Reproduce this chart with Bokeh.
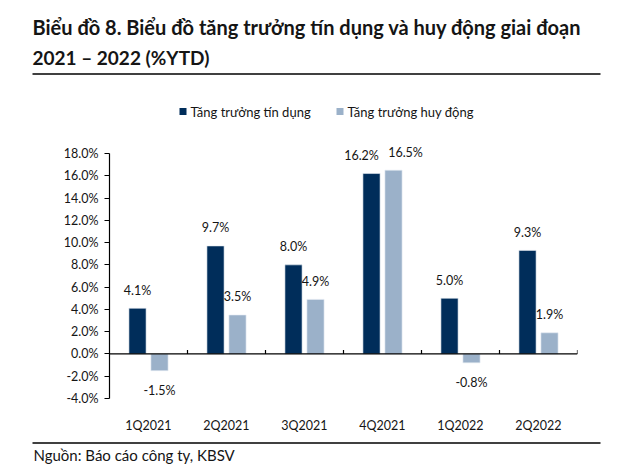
from bokeh.plotting import figure
from bokeh.layouts import column, row
from bokeh.models import Span, FixedTicker, PrintfTickFormatter, ColumnDataSource, Range1d
from bokeh.core.properties import value
from bokeh.embed import file_html
from bokeh.resources import INLINE

categories = ["1Q2021", "2Q2021", "3Q2021", "4Q2021", "1Q2022", "2Q2022"]
credit = [4.1, 9.7, 8.0, 16.2, 5.0, 9.3]
deposit = [-1.5, 3.5, 4.9, 16.5, -0.8, 1.9]
series_names = ["Tăng trưởng tín dụng", "Tăng trưởng huy động"]
y_ticks = [-4, -2, 0, 2, 4, 6, 8, 10, 12, 14, 16, 18]
title_lines = ["Biểu đồ 8. Biểu đồ tăng trưởng tín dụng và huy động giai đoạn",
               "2021 – 2022 (%YTD)"]
source_note = "Nguồn: Báo cáo công ty, KBSV"

DARK = "#002d5a"
LIGHT = "#9bb1c9"
TXT = "#151515"
FONT = "Lato"
W = 637


def blank(height):
    f = figure(width=W, height=height, output_backend="svg", toolbar_location=None,
               x_range=Range1d(0, W), y_range=Range1d(height, 0),
               x_axis_type=None, y_axis_type=None, min_border=0)
    f.outline_line_color = None
    f.grid.visible = False
    f.border_fill_color = "white"
    f.background_fill_color = "white"
    return f


# ---------- title block (canvas rows 0..80) ----------
TH = 80
t = blank(TH)
t.text(x=[32], y=[26], text=[title_lines[0]], text_font=value(FONT),
       text_font_size="20px", text_font_style="bold", text_baseline="middle",
       text_color=TXT)
t.text(x=[32], y=[57], text=[title_lines[1]], text_font=value(FONT),
       text_font_size="19px", text_font_style="bold", text_baseline="middle",
       text_color=TXT)
t.segment(x0=[32], x1=[600], y0=[73.5], y1=[73.5], line_color="black", line_width=1.3)

# ---------- main chart (canvas rows 80..437) ----------
Y0 = 80
MH = 357
FL, FR = 109, 577
FT_AX, FB = 153, 398          # canvas y of 18% and -4%
FT = 95                        # frame top (room for legend and labels)
ppu = (FB - FT_AX) / (y_ticks[-1] - y_ticks[0])
y_top = y_ticks[-1] + (FT_AX - FT) / ppu

p = figure(width=W, height=MH, output_backend="svg", toolbar_location=None,
           x_range=Range1d(0, len(categories)), y_range=Range1d(y_ticks[0], y_top),
           min_border_left=FL, min_border_right=W - FR, min_border_top=FT - Y0,
           min_border_bottom=Y0 + MH - FB)
p.outline_line_color = None
p.xgrid.visible = False
p.ygrid.visible = False
p.background_fill_color = "white"
p.border_fill_color = "white"

n = len(categories)
centers = [i + 0.5 for i in range(n)]
bw = 0.22
off = 0.141
xc = [c - off for c in centers]
xd = [c + off for c in centers]
src = ColumnDataSource(dict(xc=xc, xd=xd, credit=credit, deposit=deposit))
p.vbar(x="xc", top="credit", bottom=0, width=bw, source=src, fill_color=DARK,
       line_color="#e6ecf3", line_width=0.6)
p.vbar(x="xd", top="deposit", bottom=0, width=bw, source=src, fill_color=LIGHT,
       line_color="#e6ecf3", line_width=0.6)

# value labels (pushed apart horizontally when both sit at nearly the same height)
for k, (xs, vals, other) in enumerate([(xc, credit, deposit), (xd, deposit, credit)]):
    labs = [f"{v:.1f}%" for v in vals]
    push = [(-10 if k == 0 else 12) if (v >= 0 and o >= 0 and abs(v - o) < 1.5) else 0
            for v, o in zip(vals, other)]
    pos = [i for i, v in enumerate(vals) if v >= 0]
    neg = [i for i, v in enumerate(vals) if v < 0]
    for idx, dy in [(pos, -18), (neg, 20)]:
        if idx:
            p.text(x=[xs[i] for i in idx], y=[vals[i] for i in idx],
                   text=[labs[i] for i in idx], text_align="center",
                   x_offset=[push[i] for i in idx],
                   text_baseline="middle", y_offset=dy, text_font=value(FONT),
                   text_font_size="12.5px", text_color=TXT)

# zero axis line with category boundary ticks
p.add_layout(Span(location=0, dimension="width", line_color="black", line_width=1.2))
p.segment(x0=list(range(1, n + 1)), x1=list(range(1, n + 1)), y0=[0] * n,
          y1=[4 / ppu] * n, line_color="black", line_width=1.2)

# y axis
ya = p.yaxis[0]
ya.bounds = (y_ticks[0], y_ticks[-1])
ya.ticker = FixedTicker(ticks=y_ticks)
ya.formatter = PrintfTickFormatter(format="%.1f%%")
ya.axis_line_color = "black"
ya.axis_line_width = 1.2
ya.major_tick_line_color = "black"
ya.major_tick_line_width = 1.2
ya.major_tick_out = 5
ya.major_tick_in = 0
ya.minor_tick_line_color = None
ya.major_label_text_font = FONT
ya.major_label_text_font_size = "12.5px"
ya.major_label_text_color = TXT
ya.major_label_standoff = 6

# x axis (labels only)
xa = p.xaxis[0]
xa.ticker = FixedTicker(ticks=centers)
xa.major_label_overrides = {c: lab for c, lab in zip(centers, categories)}
xa.axis_line_color = None
xa.major_tick_line_color = None
xa.minor_tick_line_color = None
xa.major_label_text_font = FONT
xa.major_label_text_font_size = "12.5px"
xa.major_label_text_color = TXT
xa.major_label_standoff = 13


def dx(X):
    return (X - FL) / (FR - FL) * n


def dy(Y):
    return y_ticks[-1] + (FT_AX - Y) / ppu


# legend (canvas positions converted to data space)
leg_y = dy(111)
p.rect(x=[dx(182.5), dx(339.5)], y=[leg_y, leg_y], width=7, height=7,
       width_units="screen", height_units="screen", fill_color=[DARK, LIGHT],
       line_color=None)
p.text(x=[dx(190), dx(347)], y=[leg_y, leg_y], text=series_names,
       text_font=value(FONT), text_font_size="13px", text_baseline="middle",
       text_color=TXT)

# ---------- footer (canvas rows 437..469) ----------
FH = 469 - Y0 - MH
f = blank(FH)
f.segment(x0=[32], x1=[600], y0=[5.5], y1=[5.5], line_color="black", line_width=1.3)
f.text(x=[33], y=[17], text=[source_note], text_font=value(FONT),
       text_font_size="15px", text_baseline="middle", text_color=TXT)

layout = column(row(t), row(p), row(f), spacing=0)
open("out.html", "w").write(file_html(layout, INLINE))
